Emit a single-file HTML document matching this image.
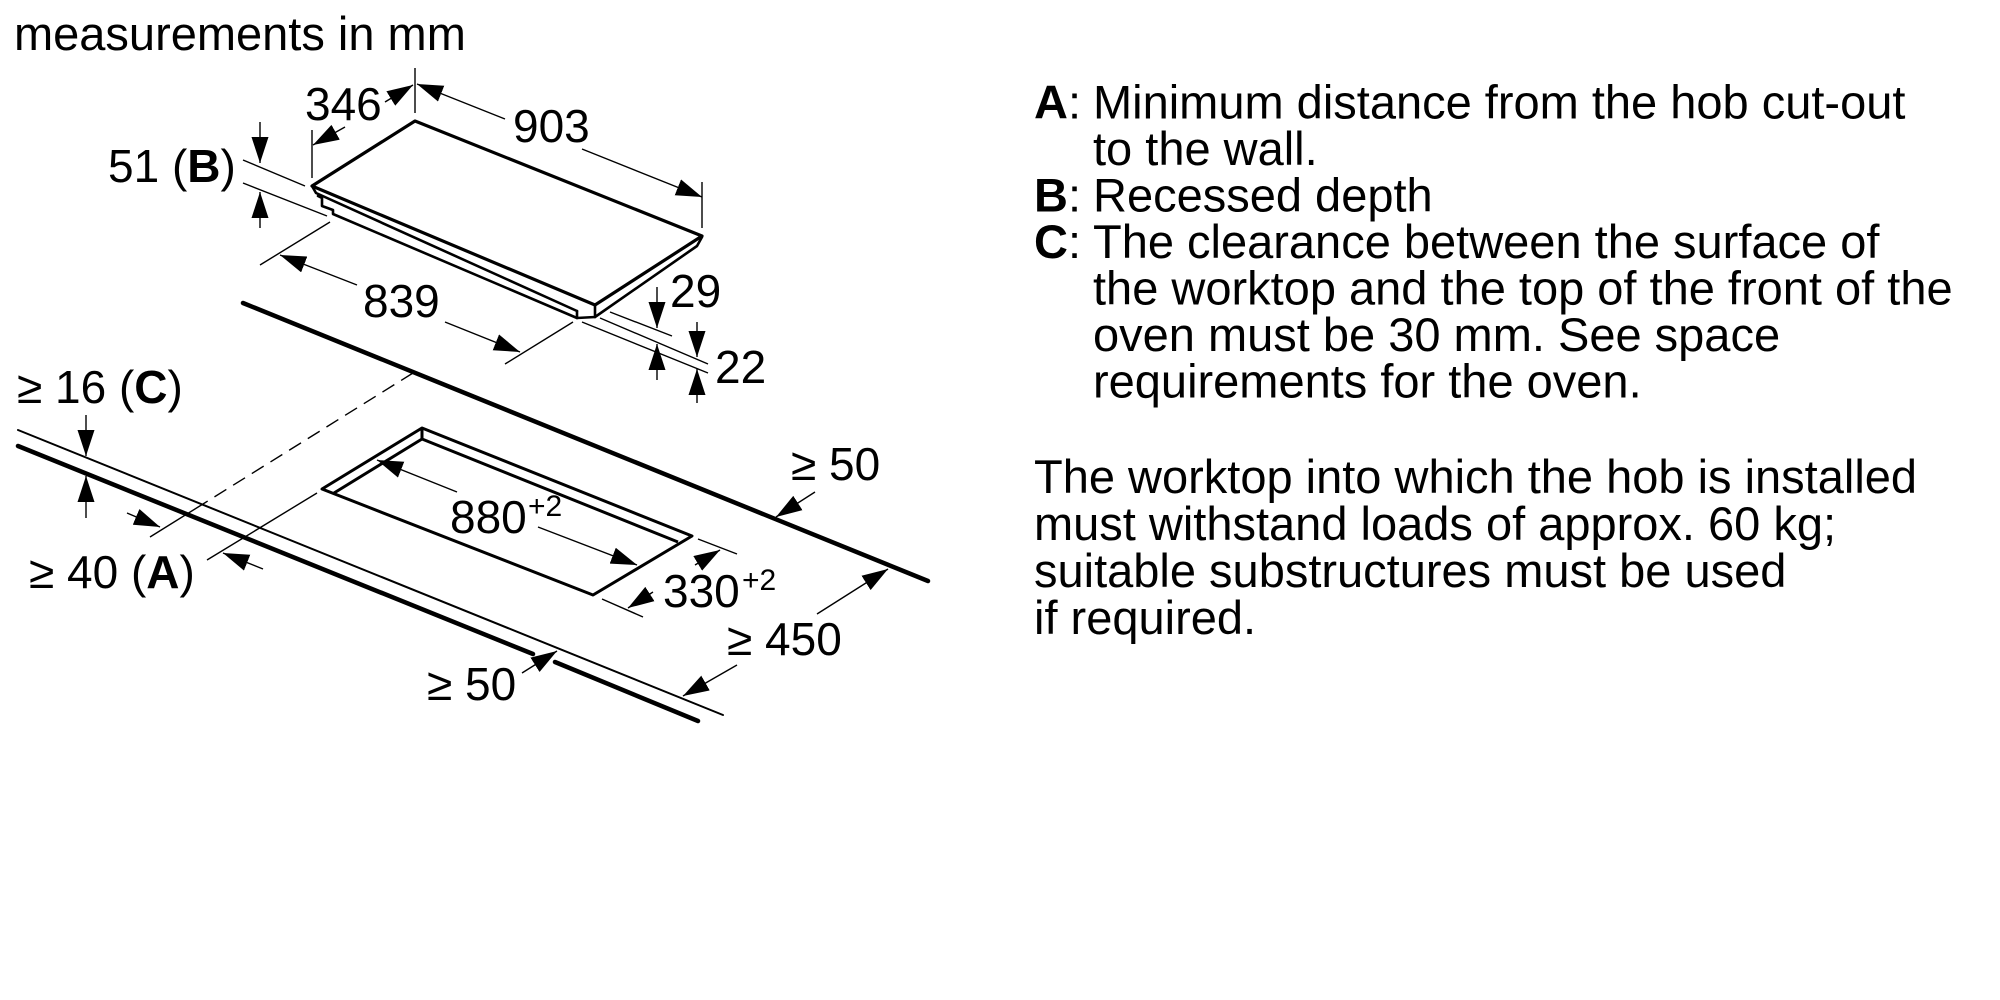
<!DOCTYPE html>
<html>
<head>
<meta charset="utf-8">
<style>
  html,body{margin:0;padding:0;background:#fff;}
  body{width:2000px;height:1000px;overflow:hidden;}
  svg{display:block;}
  text{font-family:"Liberation Sans", Arial, sans-serif;fill:#000;}
</style>
</head>
<body>
<svg width="2000" height="1000" viewBox="0 0 2000 1000" xmlns="http://www.w3.org/2000/svg">
  <defs>
    <marker id="ah" viewBox="0 0 26 17" refX="26" refY="8.5" markerWidth="26" markerHeight="17" markerUnits="userSpaceOnUse" orient="auto">
      <path d="M0,0 L26,8.5 L0,17 Z" fill="#000"/>
    </marker>
  </defs>

  <!-- title -->
  <text x="14" y="50" font-size="47">measurements in mm</text>

  <!-- worktop lines -->
  <g stroke="#000" stroke-linecap="round" fill="none">
    <line x1="243" y1="303" x2="928" y2="581" stroke-width="4.5"/>
    <line x1="18" y1="430" x2="723" y2="715" stroke-width="2"/>
    <line x1="18" y1="446" x2="533" y2="654" stroke-width="4.5"/>
    <line x1="555" y1="662" x2="698" y2="721" stroke-width="4.5"/>
  </g>

  <!-- hob -->
  <g stroke="#000" fill="none" stroke-linejoin="round" stroke-linecap="round">
    <path d="M312,186 L415,121 L702,236 L595,305 Z" stroke-width="3.2"/>
    <path d="M702,237 L697,246 L595,317" stroke-width="2.6"/>
    <path d="M595,305 L595,317 L577,318 L577,311" stroke-width="2.6"/>
    <path d="M312,186 L316,193 L577,311" stroke-width="2.6"/>
    <path d="M318,196 L322,198 L322,206 L333,210 L333,214 L577,318" stroke-width="2.6"/>
  </g>

  <!-- cutout -->
  <g stroke="#000" fill="none" stroke-width="3" stroke-linejoin="round">
    <path d="M322,489 L422,428 L692,536 L593,595 Z"/>
    <path d="M422,428 L422,439 L678,542"/>
    <path d="M422,439 L334,493"/>
  </g>

  <!-- extension lines -->
  <g stroke="#000" stroke-width="1.4" fill="none">
    <line x1="415" y1="68" x2="415" y2="113"/>
    <line x1="312" y1="130" x2="312" y2="178"/>
    <line x1="702" y1="182" x2="702" y2="228"/>
    <line x1="243" y1="160" x2="305" y2="186"/>
    <line x1="243" y1="183" x2="327" y2="216"/>
    <line x1="260" y1="265" x2="330" y2="222"/>
    <line x1="505" y1="364" x2="573" y2="322"/>
    <line x1="610" y1="312" x2="672" y2="336"/>
    <line x1="600" y1="318" x2="708" y2="364"/>
    <line x1="582" y1="322" x2="708" y2="373"/>
    <line x1="413" y1="373" x2="203" y2="504" stroke-dasharray="14 8"/>
    <line x1="203" y1="504" x2="150" y2="537"/>
    <line x1="317" y1="493" x2="207" y2="560"/>
    <line x1="698" y1="539" x2="737" y2="554"/>
    <line x1="602" y1="599" x2="643" y2="617"/>
  </g>

  <!-- dimension arrows -->
  <g stroke="#000" stroke-width="1.4" fill="none" marker-end="url(#ah)">
    <line x1="385" y1="102" x2="413" y2="85"/>
    <line x1="345" y1="127" x2="313" y2="145"/>
    <line x1="505" y1="119" x2="417" y2="84"/>
    <line x1="582" y1="149" x2="702" y2="197"/>
    <line x1="260" y1="122" x2="260" y2="163"/>
    <line x1="260" y1="228" x2="260" y2="192"/>
    <line x1="357" y1="285" x2="280" y2="255"/>
    <line x1="445" y1="322" x2="520" y2="352"/>
    <line x1="657" y1="287" x2="657" y2="328"/>
    <line x1="657" y1="380" x2="657" y2="344"/>
    <line x1="697" y1="322" x2="697" y2="357"/>
    <line x1="697" y1="403" x2="697" y2="369"/>
    <line x1="86" y1="415" x2="86" y2="456"/>
    <line x1="86" y1="518" x2="86" y2="476"/>
    <line x1="127" y1="513" x2="160" y2="527"/>
    <line x1="263" y1="569" x2="223" y2="553"/>
    <line x1="457" y1="492" x2="377" y2="460"/>
    <line x1="538" y1="527" x2="637" y2="565"/>
    <line x1="695" y1="565" x2="720" y2="550"/>
    <line x1="653" y1="592" x2="628" y2="608"/>
    <line x1="815" y1="492" x2="776" y2="517"/>
    <line x1="817" y1="614" x2="888" y2="569"/>
    <line x1="737" y1="665" x2="683" y2="696"/>
    <line x1="522" y1="673" x2="557" y2="651"/>
  </g>

  <!-- diagram labels -->
  <g font-size="46">
    <text x="305" y="120">346</text>
    <text x="513" y="142">903</text>
    <text x="108" y="182">51 (<tspan font-weight="bold">B</tspan>)</text>
    <text x="363" y="317">839</text>
    <text x="670" y="307">29</text>
    <text x="715" y="383">22</text>
    <text x="17" y="403">≥ 16 (<tspan font-weight="bold">C</tspan>)</text>
    <text x="29" y="588">≥ 40 (<tspan font-weight="bold">A</tspan>)</text>
    <text x="450" y="533">880</text>
    <text x="528" y="516" font-size="30">+2</text>
    <text x="663" y="607">330</text>
    <text x="742" y="590" font-size="30">+2</text>
    <text x="791" y="480">≥ 50</text>
    <text x="727" y="655">≥ 450</text>
    <text x="427" y="700">≥ 50</text>
  </g>

  <!-- legend text -->
  <g font-size="47">
    <text x="1034" y="118.5"><tspan font-weight="bold">A</tspan>:</text>
    <text x="1093" y="118.5">Minimum distance from the hob cut-out</text>
    <text x="1093" y="165">to the wall.</text>
    <text x="1034" y="211.5"><tspan font-weight="bold">B</tspan>:</text>
    <text x="1093" y="211.5">Recessed depth</text>
    <text x="1034" y="258"><tspan font-weight="bold">C</tspan>:</text>
    <text x="1093" y="258">The clearance between the surface of</text>
    <text x="1093" y="304.5">the worktop and the top of the front of the</text>
    <text x="1093" y="351">oven must be 30 mm. See space</text>
    <text x="1093" y="397.5">requirements for the oven.</text>

    <text x="1034" y="493">The worktop into which the hob is installed</text>
    <text x="1034" y="540">must withstand loads of approx. 60 kg;</text>
    <text x="1034" y="587">suitable substructures must be used</text>
    <text x="1034" y="634">if required.</text>
  </g>
</svg>
</body>
</html>
